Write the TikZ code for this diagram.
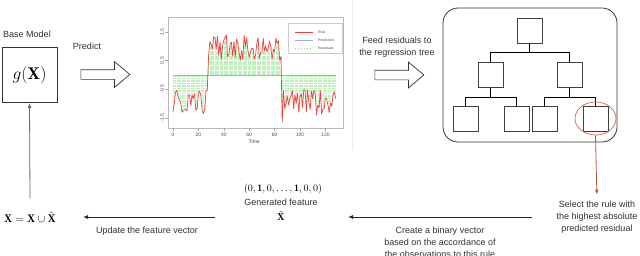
\documentclass[tikz,border=0pt]{standalone}
\usepackage{fontspec}
\usepackage{amsmath,amssymb}
\usepackage{tikz}
\usetikzlibrary{arrows.meta,positioning,shapes.geometric,shapes.arrows}
\newfontfamily\labelfont{Liberation Sans}
\definecolor{realred}{HTML}{F04040}
\definecolor{predblue}{HTML}{A0A8F0}
\definecolor{resgreen}{HTML}{80E080}
\definecolor{respale}{HTML}{BDF2BD}
\definecolor{pickred}{HTML}{E0604C}
\definecolor{txtgray}{HTML}{303030}

\begin{document}
\begin{tikzpicture}[
  x=1pt,y=-1pt,
  declare function={lvl(\t)=(\t<28)*(-0.95)+(\t>=28)*(\t<86)*(0.95)+(\t>=86)*(-0.95)-(\t==86)*0.6;},
  lbl/.style={font=\labelfont\fontsize{9}{12}\selectfont,text=txtgray,align=center,inner sep=0pt},
  box/.style={draw=black!75,line width=0.8pt,minimum size=25pt,inner sep=0pt},
  hollow/.style={single arrow,draw=black!80,line width=0.7pt,minimum height=49pt,inner xsep=0pt,inner ysep=4.5pt,single arrow head extend=8pt,single arrow tip angle=80},
  arrow/.style={-{Latex[length=5pt,width=4pt]},line width=0.8pt,color=black!85},
  branch/.style={line width=1pt,color=black},
  tick/.style={font=\labelfont\fontsize{5}{6}\selectfont,text=black!70,inner sep=0pt}
]
\useasboundingbox (0,0) rectangle (640,255);

% base model
\node[lbl] (basetitle) at (27,34) {Base Model};
\node[draw=black!80,line width=0.9pt,minimum size=55pt,inner sep=0pt] (gx) at (29.5,75) {\fontsize{17}{20}\selectfont$g(\mathbf{X})$};
\node[lbl] (predictlbl) at (87,46) {Predict};
\node[hollow] (predarrow) at (102.5,74.5) {};

% plot of the prediction
\draw[gray!15] (352,0) -- (352,150);
\begin{scope}[shift={(173pt,-75pt)},x=1.27pt,y=28.7pt]
  \draw[gray!55,line width=0.5pt] (-4,-1.85) rectangle (133.9,2.0);
  \foreach \v/\s in {-1.5/-1.5,-0.5/-0.5,0.5/0.5,1.5/1.5} {
    \draw[gray!70,line width=0.4pt] (-4,\v) -- (-6.3,\v);
    \node[tick,rotate=90] at (-8.6,\v) {\s};
  }
  \foreach \t in {0,20,...,120} {
    \draw[gray!70,line width=0.4pt] (\t,-1.85) -- (\t,-1.95);
    \node[tick] at (\t,-2.1) {\t};
  }
  \node[tick] (timelbl) at (64,-2.33) {Time};
  \pgfmathsetseed{7}
  \draw[respale,line width=0.45pt,dash pattern=on 1.6pt off 0.9pt] plot[ycomb,samples at={0,...,128}] (\x,{lvl(\x)+0.9*rnd-0.45});
  \draw[predblue,line width=0.9pt] (0,0) -- (128,0);
  \pgfmathsetseed{7}
  \draw[realred,line width=0.7pt,line join=round] plot[samples at={0,...,128}] (\x,{lvl(\x)+0.9*rnd-0.45});
\end{scope}
% legend
\draw[gray!40,fill=white,line width=0.4pt] (288,23) rectangle (342,53);
\draw[realred,line width=1pt] (295,32) -- (313,32);
\draw[predblue,line width=1pt] (295,40) -- (313,40);
\draw[resgreen,dotted,line width=1pt] (295,48) -- (313,48);
\node[tick,font=\labelfont\fontsize{3.5}{4}\selectfont,anchor=west] at (318,32) {Real};
\node[tick,font=\labelfont\fontsize{3.5}{4}\selectfont,anchor=west] at (318,40) {Prediction};
\node[tick,font=\labelfont\fontsize{3.5}{4}\selectfont,anchor=west] at (318,48) {Residuals};

% regression tree
\node[lbl] (feedlbl) at (397,47.5) {Feed residuals to\\the regression tree};
\node[hollow] (feedarrow) at (396.5,75) {};
\node[draw=black!80,line width=0.8pt,rounded corners=15pt,minimum width=174pt,minimum height=134pt] (panel) at (530,75) {};
\node[box] (root) at (529.5,30.5) {};
\node[box] (n1) at (490.5,75) {};
\node[box] (n2) at (569.5,75) {};
\node[box] (n11) at (465.5,118.5) {};
\node[box] (n12) at (516.5,118.5) {};
\node[box] (n21) at (544.5,118.5) {};
\node[box] (n22) at (595.5,118.5) {};
\draw[branch] (root.south) -- ++(0,9.5) -| (n1.north);
\draw[branch] (root.south) -- ++(0,9.5) -| (n2.north);
\draw[branch] (n1.south) -- ++(0,9.5) -| (n11.north);
\draw[branch] (n1.south) -- ++(0,9.5) -| (n12.north);
\draw[branch] (n2.south) -- ++(0,9.5) -| (n21.north);
\draw[branch] (n2.south) -- ++(0,9.5) -| (n22.north);
\node[ellipse,draw=pickred,line width=0.7pt,minimum width=41pt,minimum height=33pt] (pick) at (595.5,118.5) {};

% bottom row
\node[lbl] (selectlbl) at (597,217) {Select the rule with\\the highest absolute\\predicted residual};
\draw[arrow,color=pickred!85!black,shorten >=6pt] (pick.south) -- (selectlbl.north);
\node[lbl] (createlbl) at (440,242) {Create a binary vector\\based on the accordance of\\the observations to this rule};
\coordinate (sel-from) at (532,217);
\coordinate (vec-to) at (348,217);
\draw[arrow] (sel-from) -- (vec-to);
\node[inner sep=0pt] (vec) at (283,189) {$(0,\mathbf{1},0,\ldots,\mathbf{1},0,0)$};
\node[lbl] (genlbl) at (281,202) {Generated feature};
\node[inner sep=0pt] (xtilde) at (281,216) {$\tilde{\mathbf{X}}$};
\coordinate (vec-from) at (215,217);
\coordinate (upd-to) at (83,217);
\draw[arrow] (vec-from) -- (upd-to);
\node[lbl] (updatelbl) at (147,231) {Update the feature vector};
\node[inner sep=0pt] (union) at (30,217) {\fontsize{11}{13}\selectfont$\mathbf{X}=\mathbf{X}\cup\tilde{\mathbf{X}}$};
\draw[arrow,color=black!60] (union.north) ++(0,-13) -- (gx.south);
\end{tikzpicture}
\end{document}
